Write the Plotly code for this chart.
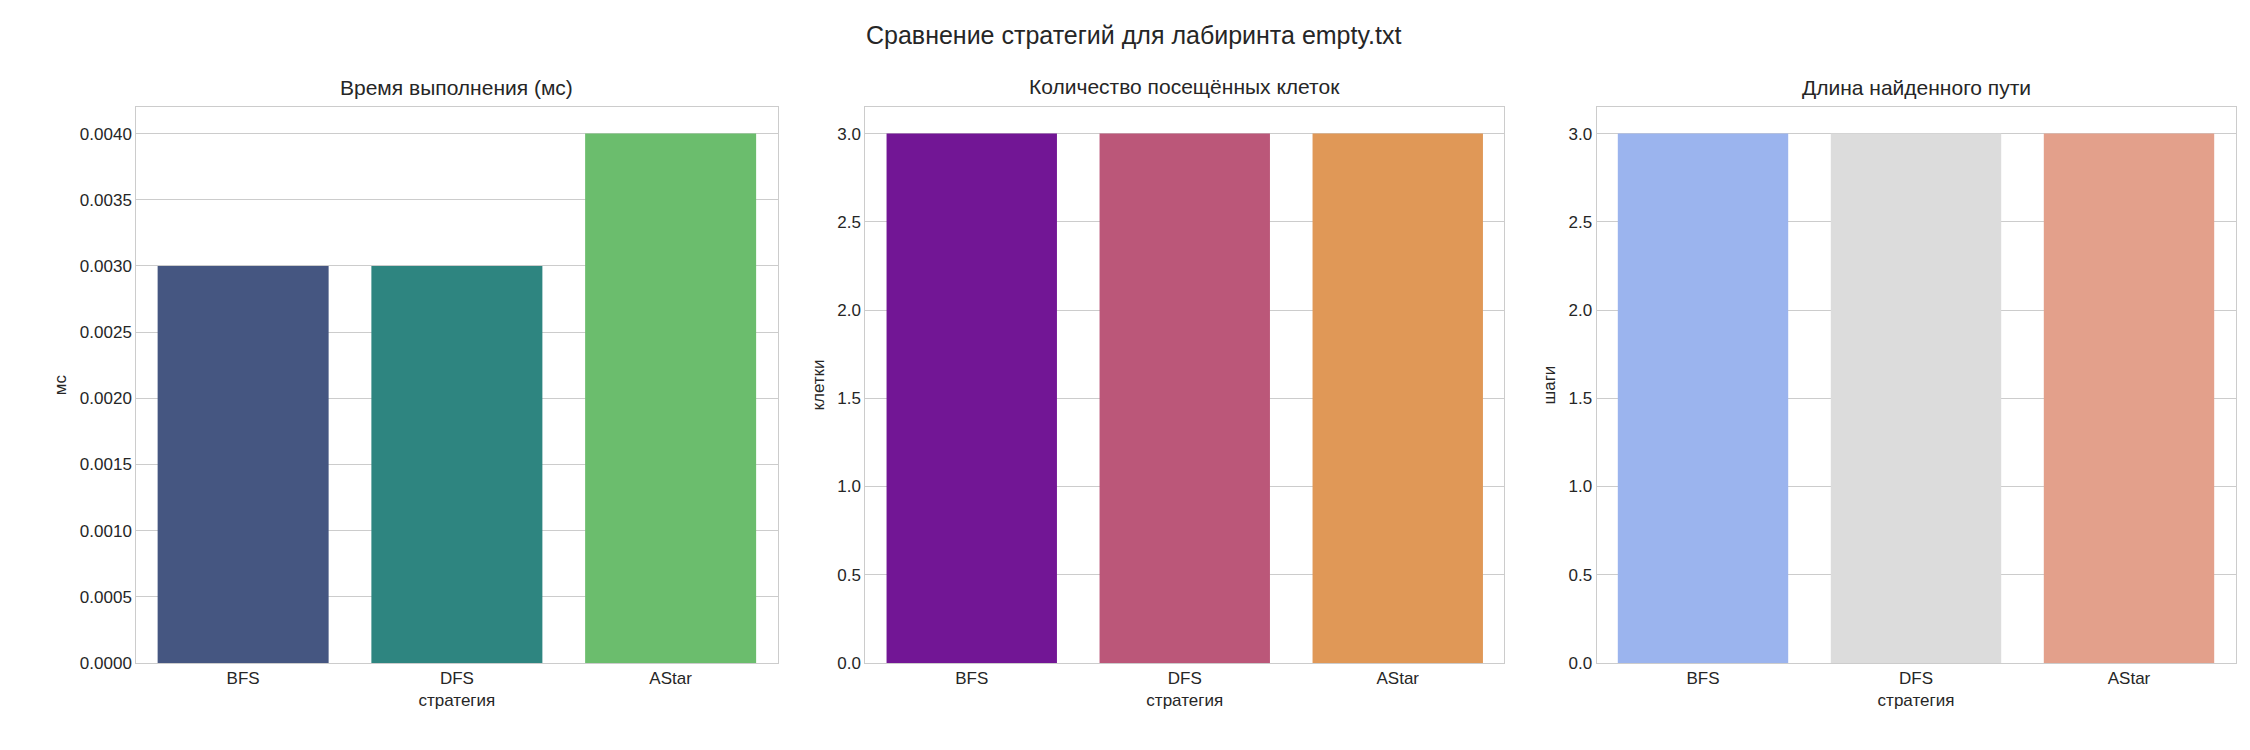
import plotly.graph_objects as go

strategies = ["BFS", "DFS", "AStar"]
time_ms = [0.003, 0.003, 0.004]
visited = [3, 3, 3]
path_len = [3, 3, 3]

colors_time = ["#455681", "#2e8580", "#6bbd6d"]
colors_visited = ["#721695", "#bb5779", "#e09857"]
colors_path = ["#9bb4ee", "#dcdcdc", "#e3a08b"]

font = "Liberation Sans, Arial, sans-serif"
fig = go.Figure()

panels = [
    (time_ms, colors_time, "Время выполнения (мс)", "мс", [0, 0.0042], 0.0005, ".4f"),
    (visited, colors_visited, "Количество посещённых клеток", "клетки", [0, 3.15], 0.5, ".1f"),
    (path_len, colors_path, "Длина найденного пути", "шаги", [0, 3.15], 0.5, ".1f"),
]
domains = [[0.057, 0.342], [0.381, 0.665], [0.706, 0.990]]

for i, (vals, cols, title, ylab, yr, dt, fmt) in enumerate(panels):
    n = "" if i == 0 else str(i + 1)
    fig.add_trace(go.Bar(x=strategies, y=vals, marker=dict(color=cols, line_width=0),
                         width=0.8, xaxis="x" + n, yaxis="y" + n, showlegend=False))
    fig.update_layout(**{
        "xaxis" + n: dict(domain=domains[i], anchor="y" + n, showgrid=False,
                          showline=True, mirror=True, linecolor="#cccccc",
                          title=dict(text="стратегия", font=dict(size=17), standoff=6),
                          tickfont=dict(size=17), ticks=""),
        "yaxis" + n: dict(domain=[0.115, 0.866], anchor="x" + n, range=yr, dtick=dt,
                          tickformat=fmt, showgrid=True, gridcolor="#cccccc",
                          showline=True, mirror=True, linecolor="#cccccc", zeroline=False,
                          title=dict(text=ylab, font=dict(size=17), standoff=8),
                          tickfont=dict(size=17), ticks=""),
    })
    fig.add_annotation(text=title, x=sum(domains[i]) / 2, y=0.875, xref="paper", yref="paper",
                       xanchor="center", yanchor="bottom", showarrow=False,
                       font=dict(size=21, color="#262626"))

fig.add_annotation(text="Сравнение стратегий для лабиринта empty.txt", x=0.5, y=0.985,
                   xref="paper", yref="paper", xanchor="center", yanchor="top",
                   showarrow=False, font=dict(size=25, color="#262626"))

fig.update_layout(width=2250, height=750, margin=dict(l=0, r=0, t=0, b=0),
                  plot_bgcolor="white", paper_bgcolor="white",
                  font=dict(family=font, color="#262626"), bargap=0.2)

fig.write_html("out.html")
